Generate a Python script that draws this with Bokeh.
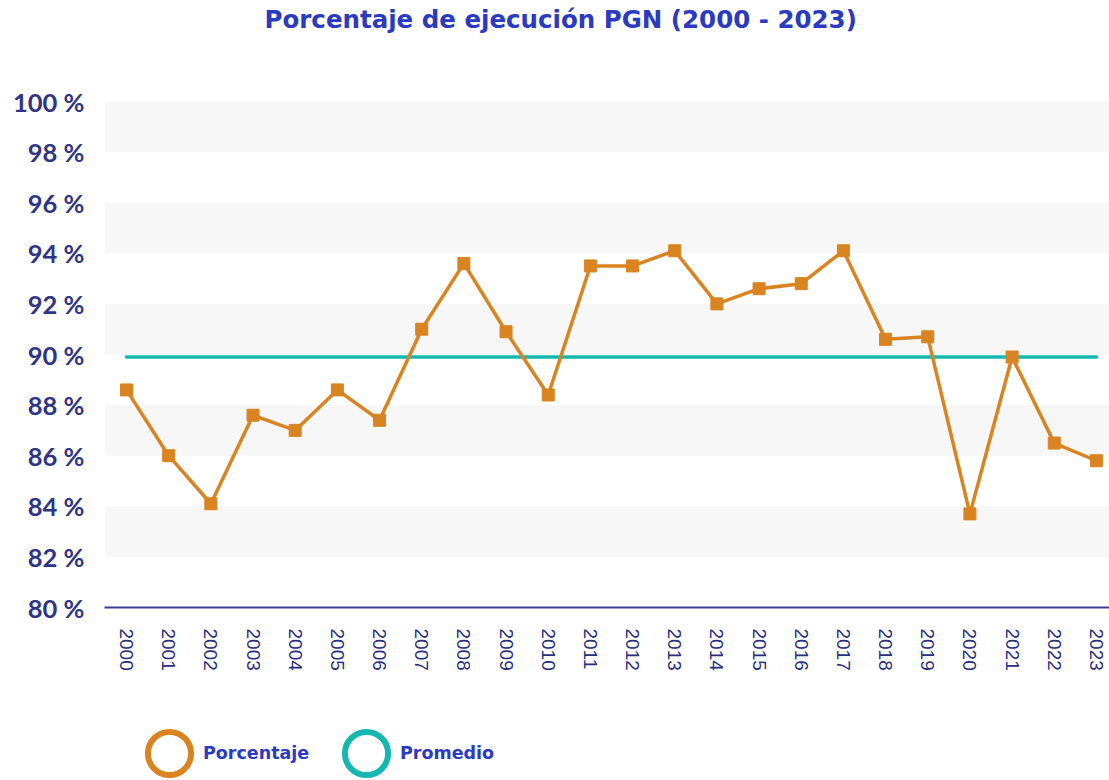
from bokeh.plotting import figure
from bokeh.layouts import column
from bokeh.models import (FixedTicker, PrintfTickFormatter, Legend, LegendItem,
                          ColumnDataSource, Range1d, Title)
from bokeh.embed import file_html
from bokeh.resources import INLINE

years = list(range(2000, 2024))
porcentaje = [88.6, 86.0, 84.1, 87.6, 87.0, 88.6, 87.4, 91.0, 93.6, 90.9, 88.4, 93.5,
              93.5, 94.1, 92.0, 92.6, 92.8, 94.1, 90.6, 90.7, 83.7, 89.9, 86.5, 85.8]
promedio = [89.9] * len(years)
y_ticks = [80, 82, 84, 86, 88, 90, 92, 94, 96, 98, 100]

ORANGE = "#d98421"
TEAL = "#14b8b0"
NAVY = "#2f3585"
XNAVY = "#282f7c"
BLUE = "#2b3abf"

p = figure(frame_width=1005, frame_height=506, output_backend="svg", toolbar_location=None,
           x_range=Range1d(1999.478, 2023.31), y_range=Range1d(80, 100),
           min_border_left=104, min_border_right=0, min_border_bottom=101, min_border_top=0)
p.outline_line_color = None

p.title.text = "Porcentaje de ejecución PGN (2000 - 2023)"
p.title.align = "left"
p.title.offset = 160
p.title.vertical_align = "top"
p.title.text_font = "DejaVu Sans"
p.title.text_font_style = "bold"
p.title.text_font_size = "24.5px"
p.title.text_color = BLUE
p.title.standoff = 8

# empty spacer between title and plot area
p.add_layout(Title(text=" ", text_font_size="10px", standoff=49), "above")

# y axis
p.yaxis.ticker = FixedTicker(ticks=y_ticks)
p.yaxis.formatter = PrintfTickFormatter(format="%d %%")
p.yaxis.axis_line_color = None
p.yaxis.major_tick_line_color = None
p.yaxis.minor_tick_line_color = None
p.yaxis.major_tick_out = 0
p.yaxis.major_label_text_font = "Lato"
p.yaxis.major_label_text_font_style = "bold"
p.yaxis.major_label_text_font_size = "25.5px"
p.yaxis.major_label_text_color = NAVY
p.yaxis.major_label_standoff = 20

# x axis
p.xaxis.ticker = FixedTicker(ticks=years)
p.xaxis.major_label_overrides = {y: str(y) for y in years}
p.xaxis.axis_line_color = "#3a3f8f"
p.xaxis.axis_line_width = 2
p.xaxis.major_tick_line_color = None
p.xaxis.minor_tick_line_color = None
p.xaxis.major_tick_out = 0
p.xaxis.major_tick_in = 0
p.xaxis.major_label_orientation = "vertical"
p.xaxis.major_label_text_font = "Liberation Sans"
p.xaxis.major_label_text_font_size = "19px"
p.xaxis.major_label_text_color = XNAVY
p.xaxis.major_label_standoff = 21

# grid bands
p.xgrid.grid_line_color = None
p.ygrid.grid_line_color = None
p.ygrid.band_fill_color = "#f7f7f7"
p.ygrid.band_fill_alpha = 1.0

src = ColumnDataSource(dict(x=years, y=porcentaje, avg=promedio))
p.line("x", "avg", source=src, line_color=TEAL, line_width=3.5, line_cap="round")
p.line("x", "y", source=src, line_color=ORANGE, line_width=3.5)
p.scatter("x", "y", source=src, marker="square", size=12, fill_color=ORANGE, line_color=ORANGE)

# legend strip (proxy glyphs lie outside this strip's ranges, so only the legend shows)
lg = figure(frame_width=1005, frame_height=72, output_backend="svg", toolbar_location=None,
            x_range=Range1d(0, 1), y_range=Range1d(0, 1),
            min_border_left=104, min_border_right=0, min_border_top=0, min_border_bottom=0)
lg.axis.visible = False
lg.grid.visible = False
lg.outline_line_color = None
r1 = lg.ellipse("x", "y", source=src, width=43, height=43, width_units="screen",
                height_units="screen", fill_color=None, line_color=ORANGE, line_width=6)
r2 = lg.ellipse("x", "avg", source=src, width=43, height=43, width_units="screen",
                height_units="screen", fill_color=None, line_color=TEAL, line_width=6)
common = dict(orientation="horizontal", glyph_width=54, glyph_height=54, label_standoff=7,
              padding=0, margin=0, border_line_color=None, background_fill_alpha=0,
              label_text_font="DejaVu Sans", label_text_font_style="bold",
              label_text_font_size="17.5px", label_text_color=BLUE)
leg1 = Legend(items=[LegendItem(label="Porcentaje", renderers=[r1])], location=(38, 0), **common)
leg2 = Legend(items=[LegendItem(label="Promedio", renderers=[r2])], location=(235, 0), **common)
lg.add_layout(leg1, "center")
lg.add_layout(leg2, "center")

layout = column(p, lg, spacing=0)
open("out.html", "w").write(file_html(layout, INLINE))
